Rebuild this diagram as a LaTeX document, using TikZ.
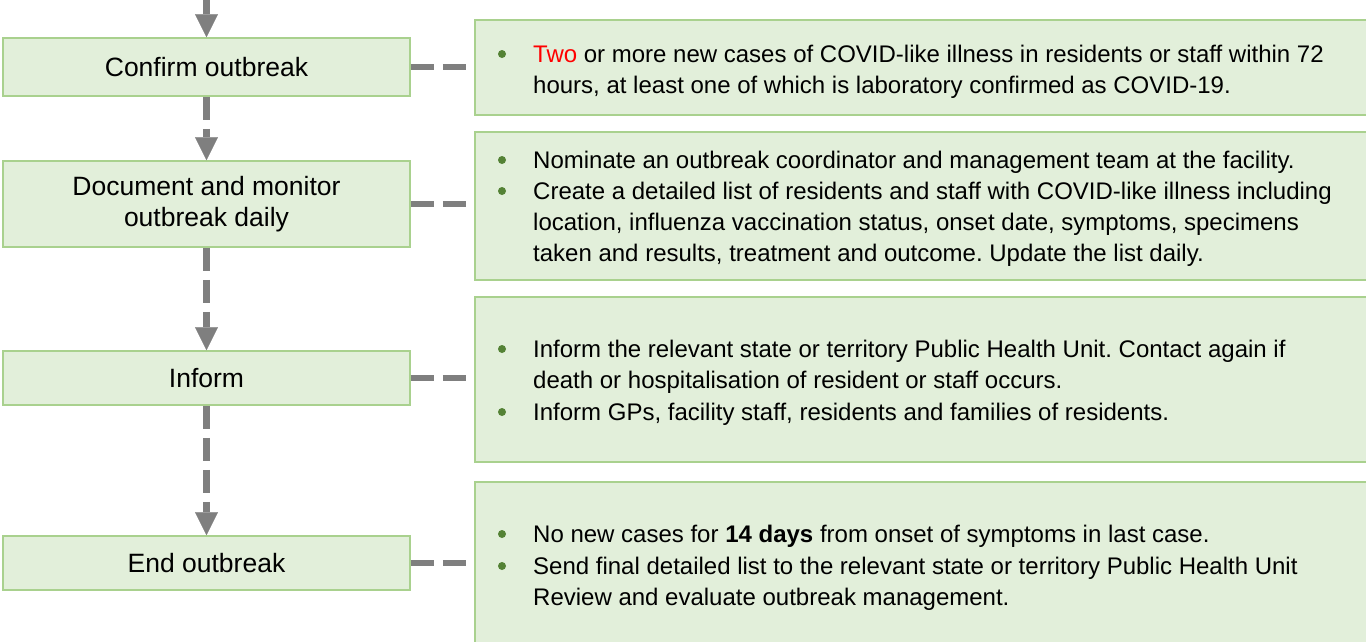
\documentclass[tikz,border=0pt]{standalone}
\usepackage{fontspec}
\setmainfont{Liberation Sans}
\usetikzlibrary{arrows.meta}
\frenchspacing
\definecolor{boxfill}{HTML}{E2EFDA}
\definecolor{boxline}{HTML}{A9D18E}
\definecolor{conngray}{HTML}{7F7F7F}
\definecolor{dotgreen}{HTML}{548235}
\definecolor{twored}{HTML}{FF0000}
\tikzset{
  lbox/.style={draw=boxline, fill=boxfill, line width=1.6pt, minimum width=407pt, inner sep=0pt, align=center,
     font=\fontsize{26.5}{31}\selectfont},
  rbox/.style={draw=boxline, fill=boxfill, line width=1.6pt, minimum width=912pt, inner sep=0pt, anchor=north west},
  rtext/.style={anchor=base west, inner sep=0pt, font=\fontsize{24}{31}\selectfont},
  bul/.style={circle, fill=dotgreen, inner sep=0pt, minimum size=8pt},
  vconn/.style={draw=conngray, line width=7pt, -{Triangle[width=23pt,length=23pt,line width=0.1pt]}},
  vdash/.style={dash pattern=on 23pt off 9pt},
  hconn/.style={draw=conngray, line width=6pt, dash pattern=on 23pt off 9pt}
}
\begin{document}
\begin{tikzpicture}[x=1pt,y=-1pt]
\useasboundingbox (0,0) rectangle (1366,641);
\clip (0,0) rectangle (1366,641);
% left boxes
\node[lbox, minimum height=58pt] (b1) at (206.5,67) {Confirm outbreak};
\node[lbox, minimum height=86pt] (b2) at (206.5,204) {Document and monitor\\outbreak daily};
\node[lbox, minimum height=54pt] (b3) at (206.5,378) {Inform};
\node[lbox, minimum height=54pt] (b4) at (206.5,563) {End outbreak};
% right boxes
\node[rbox, minimum height=95pt] (r1) at (474,19) {};
\node[rbox, minimum height=148pt] (r2) at (474,131) {};
\node[rbox, minimum height=165pt] (r3) at (474,296) {};
\node[rbox, minimum height=185pt] (r4) at (474,481) {};
% right box 1
\node[bul] (d1) at (502,54) {};
\node[rtext] (t1a) at (533,62) {\textcolor{twored}{Two} or more new cases of COVID-like illness in residents or staff within 72};
\node[rtext] (t1b) at (533,93) {hours, at least one of which is laboratory confirmed as COVID-19.};
% right box 2
\node[bul] (d2) at (502,160) {};
\node[rtext] (t2a) at (533,168) {Nominate an outbreak coordinator and management team at the facility.};
\node[bul] (d3) at (502,191) {};
\node[rtext] (t2b) at (533,199) {Create a detailed list of residents and staff with COVID-like illness including};
\node[rtext] (t2c) at (533,230) {location, influenza vaccination status, onset date, symptoms, specimens};
\node[rtext] (t2d) at (533,261) {taken and results, treatment and outcome. Update the list daily.};
% right box 3
\node[bul] (d4) at (502,349) {};
\node[rtext] (t3a) at (533,357) {Inform the relevant state or territory Public Health Unit. Contact again if};
\node[rtext] (t3b) at (533,388) {death or hospitalisation of resident or staff occurs.};
\node[bul] (d5) at (502,412) {};
\node[rtext] (t3c) at (533,420) {Inform GPs, facility staff, residents and families of residents.};
% right box 4
\node[bul] (d6) at (502,534) {};
\node[rtext] (t4a) at (533,542) {No new cases for \textbf{14 days} from onset of symptoms in last case.};
\node[bul] (d7) at (502,566) {};
\node[rtext] (t4b) at (533,574) {Send final detailed list to the relevant state or territory Public Health Unit};
\node[rtext] (t4c) at (533,605) {Review and evaluate outbreak management.};
% vertical arrows
\coordinate (top) at (206.5,0);
\draw[vconn] (top) -- (b1.north);
\draw[vconn, vdash] (b1.south) -- (b2.north);
\draw[vconn, vdash] (b2.south) -- (b3.north);
\draw[vconn, vdash] (b3.south) -- (b4.north);
% horizontal connectors
\draw[hconn] (b1.east) -- (b1.east -| r1.west);
\draw[hconn] (b2.east) -- (b2.east -| r2.west);
\draw[hconn] (b3.east) -- (b3.east -| r3.west);
\draw[hconn] (b4.east) -- (b4.east -| r4.west);
\end{tikzpicture}
\end{document}
